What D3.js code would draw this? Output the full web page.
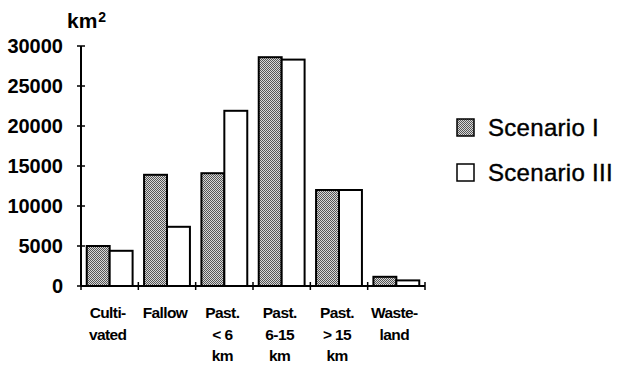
<!DOCTYPE html>
<html>
<head>
<meta charset="utf-8">
<script src="https://cdn.jsdelivr.net/npm/d3@7"></script>
<style>
	body { margin: 0; background: #fff; }
	svg { display: block; }
	text { font-family: "Liberation Sans", Arial, sans-serif; fill: #000; }
</style>
</head>
<body>
<script>
const width = 621,
	height = 367

// data (km²)
const categoryLines = [
	["Culti-", "vated"],
	["Fallow"],
	["Past.", "< 6", "km"],
	["Past.", "6-15", "km"],
	["Past.", "> 15", "km"],
	["Waste-", "land"]
]
const scenarioI = [5000, 13900, 14100, 28600, 12000, 1150]
const scenarioIII = [4400, 7400, 21900, 28300, 12000, 700]
const seriesNames = ["Scenario I", "Scenario III"]
const yTicks = [0, 5000, 10000, 15000, 20000, 25000, 30000]

const margin = { left: 81, right: 196, top: 46, bottom: 81 }

const svg = d3.select("body")
	.append("svg")
	.attr("width", width)
	.attr("height", height)

// dithered grey fill like the old printer output
const defs = svg.append("defs")
const pat = defs.append("pattern")
	.attr("id", "dither")
	.attr("width", 4)
	.attr("height", 4)
	.attr("patternUnits", "userSpaceOnUse")
pat.append("rect").attr("width", 4).attr("height", 4).attr("fill", "#d8d8d8")
;[[0, 0], [2, 0], [1, 1], [3, 1], [0, 2], [2, 2], [1, 3], [3, 3]].forEach(p => {
	pat.append("rect")
		.attr("x", p[0]).attr("y", p[1])
		.attr("width", 1).attr("height", 1)
		.attr("fill", "#555")
})

const idx = d3.range(categoryLines.length)

const x = d3.scaleBand()
	.domain(idx)
	.range([margin.left, width - margin.right])
	.paddingInner(0.2)
	.paddingOuter(0.1)

const xSub = d3.scaleBand()
	.domain([0, 1])
	.range([0, x.bandwidth()])

const y = d3.scaleLinear()
	.domain([0, 30000])
	.range([height - margin.bottom, margin.top])

const fills = ["url(#dither)", "#fff"]
const series = [scenarioI, scenarioIII]

// bars
series.forEach((vals, s) => {
	svg.append("g")
		.selectAll("rect")
		.data(vals)
		.join("rect")
		.attr("x", (d, i) => x(i) + xSub(s))
		.attr("y", d => y(d))
		.attr("width", xSub.bandwidth())
		.attr("height", d => y(0) - y(d))
		.attr("fill", fills[s])
		.attr("stroke", "#000")
		.attr("stroke-width", 2)
})

// y axis
const yAxis = svg.append("g")
yAxis.append("line")
	.attr("x1", margin.left).attr("x2", margin.left)
	.attr("y1", y(30000)).attr("y2", y(0))
	.attr("stroke", "#000").attr("stroke-width", 2)
yAxis.selectAll("line.tick")
	.data(yTicks)
	.join("line")
	.attr("class", "tick")
	.attr("x1", margin.left - 4).attr("x2", margin.left + 4)
	.attr("y1", d => y(d)).attr("y2", d => y(d))
	.attr("stroke", "#000").attr("stroke-width", 1.5)
yAxis.selectAll("text")
	.data(yTicks)
	.join("text")
	.attr("x", 63)
	.attr("y", d => y(d))
	.attr("dy", "0.36em")
	.attr("text-anchor", "end")
	.style("font-size", "20px")
	.style("font-weight", "bold")
	.text(d => d)

const unit = svg.append("text")
	.attr("x", 67)
	.attr("y", 28)
	.style("font-size", "21px")
	.style("font-weight", "bold")
unit.append("tspan").text("km")
unit.append("tspan")
	.attr("dx", 1)
	.attr("dy", -6)
	.style("font-size", "14px")
	.text("2")

// x axis
const step = x.step()
const bounds = d3.range(categoryLines.length + 1).map(i => margin.left + i * step)
const xAxis = svg.append("g")
xAxis.append("line")
	.attr("x1", margin.left).attr("x2", width - margin.right)
	.attr("y1", y(0)).attr("y2", y(0))
	.attr("stroke", "#000").attr("stroke-width", 2)
xAxis.selectAll("line.tick")
	.data(bounds)
	.join("line")
	.attr("class", "tick")
	.attr("x1", d => d).attr("x2", d => d)
	.attr("y1", y(0) - 4).attr("y2", y(0) + 4)
	.attr("stroke", "#000").attr("stroke-width", 1.5)

const lab = xAxis.selectAll("text")
	.data(categoryLines)
	.join("text")
	.attr("text-anchor", "middle")
	.style("font-size", "15.5px")
	.style("font-weight", "bold")
	.style("letter-spacing", "-0.6px")
lab.selectAll("tspan")
	.data((d, i) => d.map(t => ({ t, i })))
	.join("tspan")
	.attr("x", d => x(d.i) + x.bandwidth() / 2 - 2)
	.attr("y", (d, j) => 318 + j * 21.5)
	.text(d => d.t)

// legend
const legend = svg.append("g")
	.selectAll("g")
	.data(seriesNames)
	.join("g")
	.attr("transform", (d, i) => `translate(457,${119 + i * 45})`)
legend.append("rect")
	.attr("width", 17)
	.attr("height", 17)
	.attr("fill", (d, i) => fills[i])
	.attr("stroke", "#000")
	.attr("stroke-width", 1.5)
legend.append("text")
	.attr("x", 31)
	.attr("y", 17)
	.style("font-size", "24px")
	.style("stroke", "#000")
	.style("stroke-width", 0.4)
	.style("letter-spacing", "0.3px")
	.text(d => d)
</script>
</body>
</html>
